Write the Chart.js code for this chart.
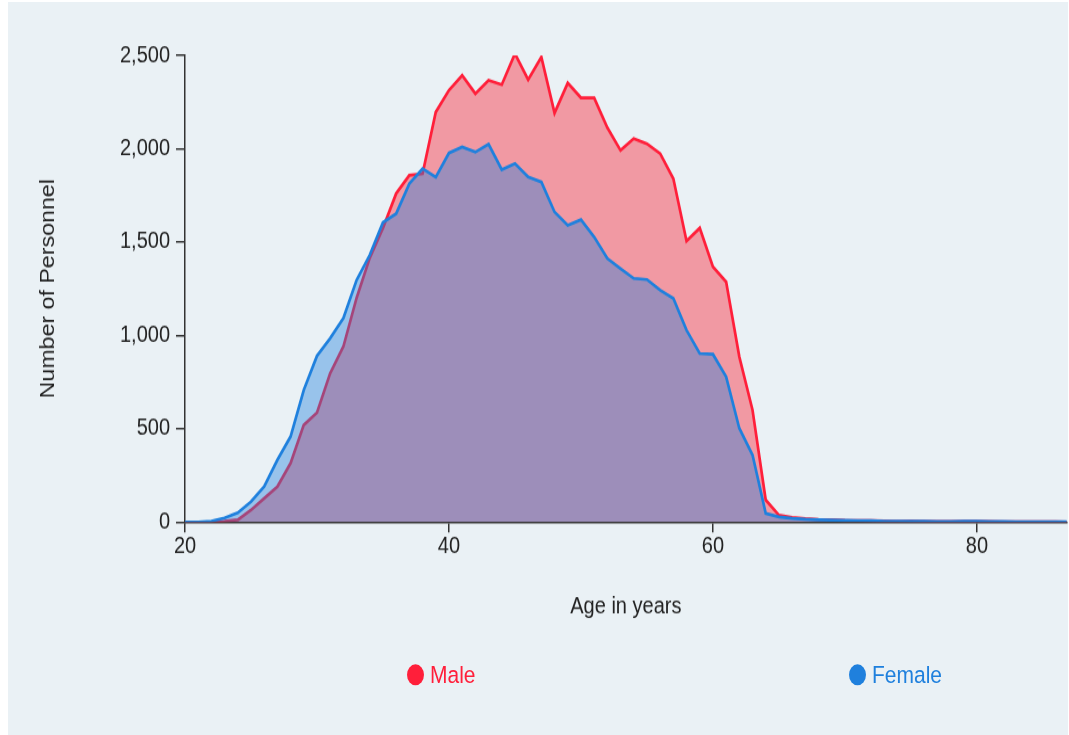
<!DOCTYPE html>
<html>
<head>
<meta charset="utf-8">
<script src="https://cdn.jsdelivr.net/npm/chart.js@4.4.0/dist/chart.umd.min.js"></script>
<style>
  html, body { margin: 0; padding: 0; background: #fff; }
  #wrap {
    position: absolute; left: 8px; top: 2px;
    width: 1060px; height: 632px;
    background: #eaf1f5;
    transform: scaleY(1.16); transform-origin: 0 0;
  }
  .lg {
    position: absolute; top: 568px; height: 24px;
    display: flex; align-items: center;
    font: 21px 'Liberation Sans', Arial, sans-serif;
  }
  .lg i { display: inline-block; width: 17px; height: 18px; border-radius: 50%; margin-right: 6px; }
</style>
</head>
<body>
<div id="wrap">
  <canvas id="grafica"></canvas>
</div>
<script>
// ages 20..87
const ages = [20,21,22,23,24,25,26,27,28,29,30,31,32,33,34,35,36,37,38,39,40,41,42,43,44,45,46,47,48,49,50,51,52,53,54,55,56,57,58,59,60,61,62,63,64,65,66,67,68,69,70,71,72,73,74,75,76,77,78,79,80,81,82,83,84,85,86,87];

const male = [0,0,0,5,12,64,127,190,315,520,586,797,940,1200,1415,1575,1760,1858,1866,2196,2313,2393,2295,2366,2343,2509,2370,2491,2191,2352,2273,2273,2113,1991,2054,2027,1974,1840,1505,1575,1367,1287,885,600,118,37,25,18,14,12,9,8,7,6,5,6,4,3,3,4,4,3,2,2,1,1,1,0];

const female = [0,0,5,22,50,109,190,333,458,707,890,985,1092,1296,1430,1605,1652,1813,1893,1848,1977,2009,1982,2024,1888,1920,1849,1822,1661,1590,1620,1527,1412,1358,1305,1299,1242,1198,1028,903,899,778,502,359,46,28,20,15,12,10,9,8,7,5,5,4,4,3,3,5,4,3,3,2,2,2,2,2];

const seriesNames = ['Male', 'Female'];
const xTicks = [20, 40, 60, 80];
const yTicks = [0, 500, 1000, 1500, 2000, 2500];

const colores = ['#ff1f3a', '#1f80dd'];
const rellenos = ['rgba(250, 30, 50, 0.42)', 'rgba(30, 128, 220, 0.4)'];

function puntos(vals) {
    return ages.map(function(a, i) { return { x: a, y: vals[i] }; });
}

const fuente = "'Liberation Sans', Arial, sans-serif";
const texto = '#222';

const ctx = document.getElementById('grafica');
const chart = new Chart(ctx, {
    type: 'line',
    data: {
        datasets: [{
            label: seriesNames[0],
            data: puntos(male),
            borderColor: colores[0],
            backgroundColor: rellenos[0],
            borderWidth: 2.7,
            fill: 'origin',
            pointRadius: 0,
            tension: 0,
            order: 2
        }, {
            label: seriesNames[1],
            data: puntos(female),
            borderColor: colores[1],
            backgroundColor: rellenos[1],
            borderWidth: 2.7,
            fill: 'origin',
            pointRadius: 0,
            tension: 0,
            order: 1
        }]
    },
    options: {
        responsive: true,
        maintainAspectRatio: false,
        animation: false,
        layout: { padding: { top: 46, right: 0, bottom: 0, left: 0 } },
        scales: {
            x: {
                type: 'linear',
                min: xTicks[0],
                max: 86.8,
                afterBuildTicks: function(scale) {
                    scale.ticks = xTicks.map(function(v) { return { value: v }; });
                },
                afterFit: function(scale) { scale.height = 183.7; },
                ticks: { color: texto, font: { family: fuente, size: 20 }, padding: 0, includeBounds: false },
                grid: { drawOnChartArea: false, drawTicks: true, tickLength: 9, color: '#333', lineWidth: 1.5 },
                border: { display: true, color: '#333', width: 1.5 },
                title: {
                    display: true,
                    text: 'Age in years',
                    color: texto,
                    font: { family: fuente, size: 20 },
                    padding: { top: 0, bottom: 99 }
                }
            },
            y: {
                min: yTicks[0],
                max: yTicks[yTicks.length - 1],
                afterBuildTicks: function(scale) {
                    scale.ticks = yTicks.map(function(v) { return { value: v }; });
                },
                afterFit: function(scale) { scale.width = 177; },
                ticks: {
                    color: texto,
                    font: { family: fuente, size: 20 },
                    padding: 6,
                    callback: function(v) { return v.toLocaleString('en-US'); }
                },
                grid: { drawOnChartArea: false, drawTicks: true, tickLength: 9, color: '#333', lineWidth: 1.5 },
                border: { display: true, color: '#333', width: 1.5 },
                title: {
                    display: true,
                    text: 'Number of Personnel',
                    color: texto,
                    font: { family: fuente, size: 20 },
                    padding: { top: 28, bottom: 0 }
                }
            }
        },
        plugins: {
            legend: { display: false },
            tooltip: { enabled: false }
        }
    }
});

// leyenda a mano, los items van separados
const leyendaX = [399, 841];
const wrap = document.getElementById('wrap');
chart.data.datasets.forEach(function(ds, i) {
    const item = document.createElement('div');
    item.className = 'lg';
    item.style.left = leyendaX[i] + 'px';
    item.style.color = ds.borderColor;
    const dot = document.createElement('i');
    dot.style.background = ds.borderColor;
    item.appendChild(dot);
    item.appendChild(document.createTextNode(ds.label));
    wrap.appendChild(item);
});
</script>
</body>
</html>
